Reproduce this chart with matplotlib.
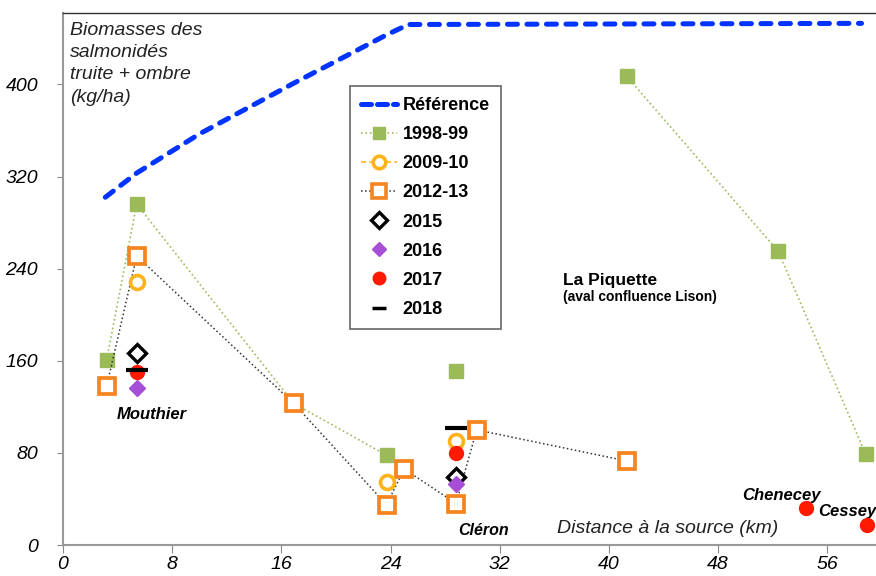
import numpy as np
import matplotlib.pyplot as plt
from matplotlib.lines import Line2D

plt.rcParams['font.family'] = ['Liberation Sans', 'DejaVu Sans']

# Courbe de référence
ref_x = [3.1, 5.4, 10.0, 16.9, 23.7, 25.3, 58.5]
ref_y = [302, 323, 357, 401, 443, 452, 453]

# 1998-99 (None = coupure de la ligne)
x_1998 = [3.2, 5.4, 16.9, 23.7, None, 28.8, None, 41.3, 52.4, 58.8]
y_1998 = [161, 296, 123, 78, None, 151, None, 407, 255, 79]

# 2009-10
x_2009 = [5.4, 23.7, 28.8]
y_2009 = [228, 55, 90]

# 2012-13
x_2012 = [3.2, 5.4, 16.9, 23.7, 25.0, 28.8, 30.3, 41.3]
y_2012 = [138, 251, 123, 35, 66, 36, 100, 73]

# 2015 / 2016 / 2017 / 2018
x_2015 = [5.4, 28.8]
y_2015 = [167, 59]
x_2016 = [5.4, 28.8]
y_2016 = [136, 53]
x_2017 = [5.4, 28.8, 54.4, 58.9]
y_2017 = [150, 80, 32, 17]
x_2018 = [5.4, 28.8]
y_2018 = [152, 102]

stations = ['Mouthier', 'Cléron', 'Chenecey', 'Cessey']

def arr(v):
    return np.array([np.nan if a is None else a for a in v], dtype=float)

green = '#9bbb59'
orange = '#f7841f'
yellow = '#ffb31a'
purple = '#a64fd6'
red = '#ff1a00'
blue = '#0033ff'

fig = plt.figure(figsize=(8.76, 5.76), dpi=100)
ax = fig.add_axes([63/876, 31/576, 1 - 63/876, 532/576])

ax.plot(ref_x, ref_y, color=blue, lw=3.6, ls=(0, (2.0, 1.9)),
        dash_capstyle='round', zorder=2)
ax.plot(arr(x_1998), arr(y_1998), color=green, lw=1.2, ls=':', marker='s',
        ms=9.5, mfc=green, mec=green, zorder=3)
ax.plot(x_2012, y_2012, color='#333333', lw=1.1, ls=':', marker='s',
        ms=11, mfc='white', mec=orange, mew=2.7, zorder=4)
ax.plot(x_2009, y_2009, ls='none', marker='o', ms=10, mfc='white',
        mec=yellow, mew=2.6, zorder=4)
ax.plot(x_2015, y_2015, ls='none', marker='D', ms=9, mfc='white',
        mec='black', mew=2.4, zorder=5)
ax.plot(x_2016, y_2016, ls='none', marker='D', ms=8, mfc=purple,
        mec=purple, zorder=5)
ax.plot(x_2017, y_2017, ls='none', marker='o', ms=10, mfc=red,
        mec=red, zorder=5)
ax.plot(x_2018, y_2018, ls='none', marker='_', ms=16, mec='black',
        mew=3, zorder=6)

ax.set_xlim(0, 59.56)
ax.set_ylim(0, 462)
ax.set_xticks(np.arange(0, 57, 8))
ax.set_yticks(np.arange(0, 401, 80))
for lab in ax.get_xticklabels() + ax.get_yticklabels():
    lab.set_fontstyle('italic')
ax.tick_params(axis='y', length=4, pad=14, labelsize=14, color='#888888')
ax.tick_params(axis='x', length=6, pad=2, labelsize=14, color='#888888')

ax.spines['right'].set_visible(False)
ax.spines['left'].set_color('#999999')
ax.spines['bottom'].set_color('#999999')
ax.spines['left'].set_linewidth(1.5)
ax.spines['bottom'].set_linewidth(1.5)
ax.spines['top'].set_color('#333333')
ax.spines['top'].set_linewidth(1)

# Textes
ax.text(0.009, 0.984, 'Biomasses des\nsalmonidés\ntruite + ombre\n(kg/ha)',
        transform=ax.transAxes, ha='left', va='top', fontsize=14,
        style='italic', linespacing=1.42, color='#222222')
ax.text(44.3, 7, 'Distance à la source (km)', ha='center', va='bottom',
        fontsize=14, style='italic', color='#222222')
ax.text(6.5, 113, stations[0], ha='center', va='center', fontsize=12,
        style='italic', fontweight='bold')
ax.text(30.8, 13, stations[1], ha='center', va='center', fontsize=11.5,
        style='italic', fontweight='bold')
ax.text(52.6, 43, stations[2], ha='center', va='center', fontsize=12,
        style='italic', fontweight='bold')
ax.text(59.6, 29, stations[3], ha='right', va='center', fontsize=12,
        style='italic', fontweight='bold')
ax.text(36.6, 230, 'La Piquette', ha='left', va='center', fontsize=12.5,
        fontweight='bold')
ax.text(36.6, 215, '(aval confluence Lison)', ha='left', va='center',
        fontsize=10, fontweight='bold')

handles = [
    Line2D([], [], color=blue, lw=3.6, ls=(0, (2.0, 1.2)), dash_capstyle='round'),
    Line2D([], [], color=green, lw=1.2, ls=':', marker='s', ms=9, mfc=green, mec=green),
    Line2D([], [], color=yellow, lw=1.2, ls=(0, (3, 2)), marker='o', ms=9, mfc='white', mec=yellow, mew=2.6),
    Line2D([], [], color='#333333', lw=1.1, ls=':', marker='s', ms=9.5, mfc='white', mec=orange, mew=2.6),
    Line2D([], [], ls='none', marker='D', ms=8, mfc='white', mec='black', mew=2.4),
    Line2D([], [], ls='none', marker='D', ms=7, mfc=purple, mec=purple),
    Line2D([], [], ls='none', marker='o', ms=9, mfc=red, mec=red),
    Line2D([], [], ls='none', marker='_', ms=10, mec='black', mew=2.5),
]
labels = ['Référence', '1998-99', '2009-10', '2012-13', '2015', '2016', '2017', '2018']
leg = ax.legend(handles, labels, loc='upper left',
                bbox_to_anchor=((350 - 63) / 813, (545 - 86) / 532),
                prop={'size': 13, 'weight': 'bold'}, frameon=True,
                fancybox=False, edgecolor='#666666', framealpha=1,
                handlelength=2.0, handletextpad=0.3, labelspacing=0.67,
                borderpad=0.62, borderaxespad=0)
leg.get_frame().set_linewidth(1.2)

plt.savefig('out.png', dpi=100)
